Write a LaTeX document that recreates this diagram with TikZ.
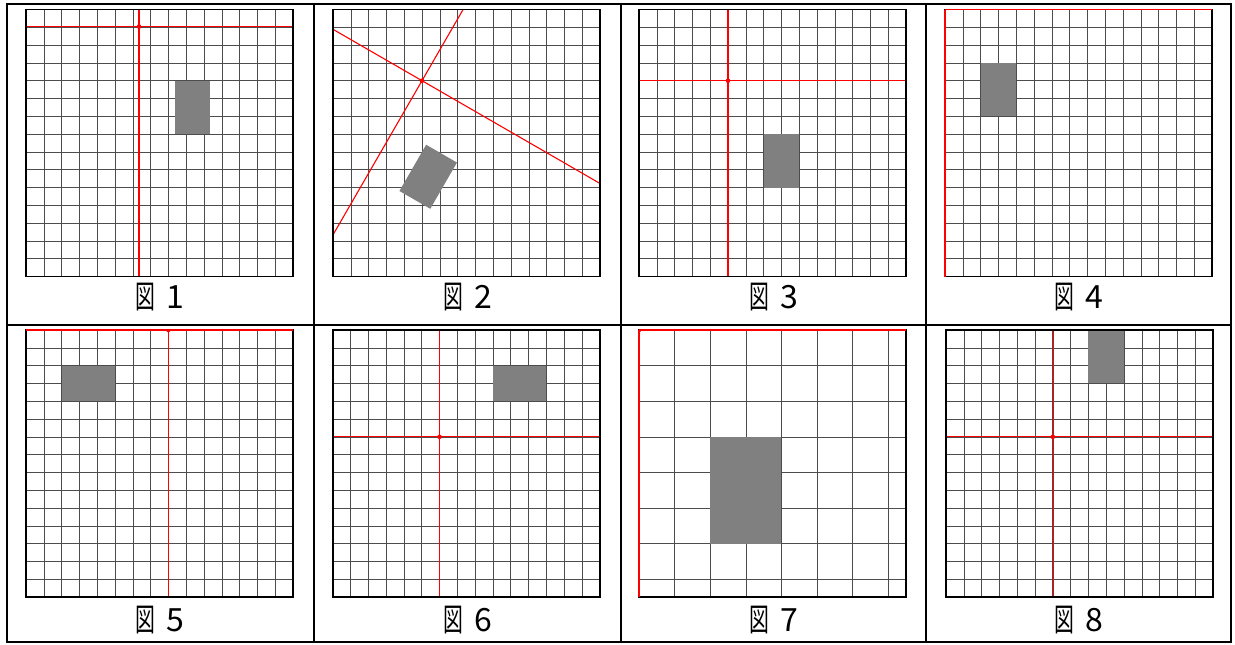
\documentclass[tikz,border=0pt]{standalone}
\usepackage{fontspec}
\newfontfamily\jpfont{Noto Sans CJK JP}
\usetikzlibrary{positioning}

\begin{document}
\begin{tikzpicture}[x=1pt, y=-1pt,
    cell/.style={x=17.8pt, y=17.8pt},
    gridline/.style={draw=black!70, line width=0.6pt, step=17.8pt},
    frame/.style={draw=black, line width=1.8pt},
    axis/.style={draw=red, line width=1.1pt},
    origin/.style={fill=red},
    piece/.style={fill=black!50},
    tableline/.style={draw=black, line width=2pt},
    caption/.style={font=\jpfont\fontsize{32}{32}\selectfont, inner sep=0pt}
]
\useasboundingbox (0,0) rectangle (1235,645);

% Table rules
\draw[tableline] (7,4) rectangle (1231,642);
\draw[tableline] (7,324.5) -- (1231,324.5);
\foreach \xcol in {314, 621, 926}
    \draw[tableline] (\xcol,4) -- (\xcol,642);

% Panel 1: origin moved up and right
\begin{scope}[xshift=26pt, yshift=-276.5pt, cell]
    \begin{scope}
    \clip (0,0) rectangle (15,15);
    \draw[gridline] (0,0) grid (15,15);
    \fill[piece] (8.35,11) rectangle (10.35,8);
    \coordinate (o1) at (6.35,14.04);
    \draw[axis] (o1 -| 0,0) -- (o1 -| 15,0);
    \draw[axis] (o1 |- 0,0) -- (o1 |- 0,15);
    \fill[origin] (o1) circle (2.3pt);
    \end{scope}
    \draw[frame] (0,0) rectangle (15,15);
\end{scope}

% Panel 2: axes turned by 30 degrees
\begin{scope}[xshift=333pt, yshift=-276.5pt, cell]
    \begin{scope}
    \clip (0,0) rectangle (15,15);
    \draw[gridline] (0,0) grid (15,15);
    \coordinate (o2) at (5,11);
    \begin{scope}[shift={(o2)}, rotate=-30]
        \fill[piece] (2,-3) rectangle (4,-6);
        \draw[axis] (-20,0) -- (20,0);
        \draw[axis] (0,-20) -- (0,20);
    \end{scope}
    \fill[origin] (o2) circle (2.3pt);
    \end{scope}
    \draw[frame] (0,0) rectangle (15,15);
\end{scope}

% Panel 3: plain axes
\begin{scope}[xshift=639pt, yshift=-276.5pt, cell]
    \begin{scope}
    \clip (0,0) rectangle (15,15);
    \draw[gridline] (0,0) grid (15,15);
    \fill[piece] (7,8) rectangle (9,5);
    \coordinate (o3) at (5,11);
    \draw[axis] (o3 -| 0,0) -- (o3 -| 15,0);
    \draw[axis] (o3 |- 0,0) -- (o3 |- 0,15);
    \fill[origin] (o3) circle (2.3pt);
    \end{scope}
    \draw[frame] (0,0) rectangle (15,15);
\end{scope}

% Panel 4: origin in the corner
\begin{scope}[xshift=945pt, yshift=-276.5pt, cell]
    \begin{scope}
    \clip (0,0) rectangle (15,15);
    \draw[gridline] (0,0) grid (15,15);
    \fill[piece] (2,12) rectangle (4,9);
    \coordinate (o4) at (0,15);
    \end{scope}
    \draw[frame] (0,0) rectangle (15,15);
    \draw[axis] (o4 -| 0,0) -- (o4 -| 15,0);
    \draw[axis] (o4 |- 0,0) -- (o4 |- 0,15);
\end{scope}

% Panel 5: origin on the top edge
\begin{scope}[xshift=26pt, yshift=-597pt, cell]
    \begin{scope}
    \clip (0,0) rectangle (15,15);
    \draw[gridline] (0,0) grid (15,15);
    \fill[piece] (2,13) rectangle (5,11);
    \coordinate (o5) at (8,15);
    \draw[axis] (o5 |- 0,0) -- (o5 |- 0,15);
    \fill[origin] (o5) circle (2.3pt);
    \end{scope}
    \draw[frame] (0,0) rectangle (15,15);
    \draw[axis] (o5 -| 0,0) -- (o5 -| 15,0);
\end{scope}

% Panel 6: piece lying on its side
\begin{scope}[xshift=332.7pt, yshift=-597pt, cell]
    \begin{scope}
    \clip (0,0) rectangle (15,15);
    \draw[gridline] (0,0) grid (15,15);
    \fill[piece] (9,13) rectangle (12,11);
    \coordinate (o6) at (6,9);
    \draw[axis] (o6 -| 0,0) -- (o6 -| 15,0);
    \draw[axis] (o6 |- 0,0) -- (o6 |- 0,15);
    \fill[origin] (o6) circle (2.3pt);
    \end{scope}
    \draw[frame] (0,0) rectangle (15,15);
\end{scope}

% Panel 7: twice the scale, grid counted from the top left
\begin{scope}[xshift=639pt, yshift=-597pt, cell]
    \begin{scope}
    \clip (0,0) rectangle (15,15);
    \draw[gridline, step=35.6pt, shift={(0,15)}] (0,-15) grid (15,0);
    \fill[piece] (4,9) rectangle (8,3);
    \coordinate (o7) at (0,15);
    \fill[origin] (o7) circle (2.3pt);
    \end{scope}
    \draw[frame] (0,0) rectangle (15,15);
    \draw[axis] (o7 -| 0,0) -- (o7 -| 15,0);
    \draw[axis] (o7 |- 0,0) -- (o7 |- 0,15);
\end{scope}

% Panel 8: piece flipped upwards
\begin{scope}[xshift=946pt, yshift=-597pt, cell]
    \begin{scope}
    \clip (0,0) rectangle (15,15);
    \draw[gridline] (0,0) grid (15,15);
    \fill[piece] (8,15) rectangle (10,12);
    \coordinate (o8) at (6,9);
    \draw[axis] (o8 -| 0,0) -- (o8 -| 15,0);
    \draw[axis] (o8 |- 0,0) -- (o8 |- 0,15);
    \fill[origin] (o8) circle (2.3pt);
    \end{scope}
    \draw[frame] (0,0) rectangle (15,15);
\end{scope}

% Captions
\node[caption] (cap1) at (159.5,297) {\scalebox{0.62}[1]{図}\hspace{0.35em}1};
\node[caption] (cap2) at (467.5,297) {\scalebox{0.62}[1]{図}\hspace{0.35em}2};
\node[caption] (cap3) at (773.5,297) {\scalebox{0.62}[1]{図}\hspace{0.35em}3};
\node[caption] (cap4) at (1078.5,297) {\scalebox{0.62}[1]{図}\hspace{0.35em}4};
\node[caption] (cap5) at (159.5,620) {\scalebox{0.62}[1]{図}\hspace{0.35em}5};
\node[caption] (cap6) at (467.5,620) {\scalebox{0.62}[1]{図}\hspace{0.35em}6};
\node[caption] (cap7) at (773.5,620) {\scalebox{0.62}[1]{図}\hspace{0.35em}7};
\node[caption] (cap8) at (1078.5,620) {\scalebox{0.62}[1]{図}\hspace{0.35em}8};
\end{tikzpicture}
\end{document}
